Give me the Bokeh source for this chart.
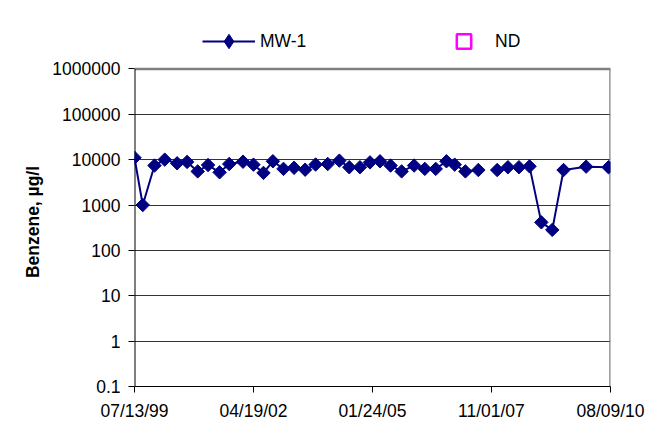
import numpy as np
import pandas as pd
from bokeh.plotting import figure
from bokeh.models import (ColumnDataSource, Range1d, FixedTicker, CustomJSTickFormatter,
                          DatetimeTickFormatter, Legend, LegendItem)
from bokeh.embed import file_html
from bokeh.resources import INLINE

# ---- data ----
dates = ["1999-07-13", "1999-09-21", "1999-12-30", "2000-03-26", "2000-07-09", "2000-10-02",
         "2000-12-31", "2001-03-29", "2001-07-05", "2001-09-25", "2002-01-20", "2002-04-19",
         "2002-07-13", "2002-10-01", "2002-12-30", "2003-03-30", "2003-07-02", "2003-09-29",
         "2004-01-10", "2004-04-18", "2004-07-11", "2004-10-10", "2005-01-03", "2005-03-29",
         "2005-06-27", "2005-09-29", "2006-01-13", "2006-04-14", "2006-07-16", "2006-10-15",
         "2006-12-24", "2007-03-25", "2007-07-13", "2007-10-01", "2007-12-20", "2008-03-20",
         "2008-06-22", "2008-09-20", "2008-12-29", "2009-04-01", "2009-07-06", "2010-01-14",
         "2010-07-23"]
mw1 = [11000, 1000, 7400, 10000, 8300, 8900, 5500, 7600, 5250, 8000, 9000, 7750,
       5100, 9200, 6250, 6600, 6000, 7800, 8000, 9500, 6800, 6800, 8700, 9200,
       7400, 5500, 7400, 6250, 6250, 9200, 7750, 5500, 5900, None, 5900, 6800,
       6800, 7100, 415, 283, 5900, 7000, 6800]
nd_dates = []          # no non-detect results
nd_values = []
x_tick_dates = ["1999-07-13", "2002-04-19", "2005-01-24", "2007-11-01", "2010-08-09"]
y_ticks = [0.1, 1, 10, 100, 1000, 10000, 100000, 1000000]
y_label = "Benzene, µg/l"

x = pd.to_datetime(dates)
y = np.array([np.nan if v is None else v for v in mw1], dtype=float)
src = ColumnDataSource(dict(x=x, y=y))

xt = pd.to_datetime(x_tick_dates)
xt_ms = [t.value / 1e6 for t in xt]
x0, x1 = xt[0], xt[-1]
y0, y1 = y_ticks[0], y_ticks[-1]

FONT = "Liberation Sans"
NAVY = "#000080"

# frame extends one decade above the top tick so the legend fits inside it
p = figure(width=645, height=432, output_backend="svg", toolbar_location=None,
           y_axis_type="log", x_axis_type="datetime",
           x_range=Range1d(x0, x1), y_range=Range1d(y0, y1 * 10),
           min_border_left=134, min_border_right=35, min_border_top=23, min_border_bottom=46)
p.styles = {"outline": "1px solid black", "outline-offset": "-3px"}

p.xgrid.grid_line_color = None
p.ygrid.grid_line_color = "#333333"
p.ygrid.grid_line_width = 1
p.outline_line_color = None
p.background_fill_color = "white"
p.border_fill_color = "white"

# plot-area edges (top/right grey, left black) bounded by the axis ranges
p.segment(x0=[x0, x1], y0=[y1, y0], x1=[x1, x1], y1=[y1, y1],
          line_color="#808080", line_width=2.5)
p.segment(x0=[x0], y0=[y0], x1=[x0], y1=[y1], line_color="black", line_width=2)

line_r = p.line("x", "y", source=src, line_color=NAVY, line_width=2)
pts_r = p.scatter("x", "y", source=src, marker="square", angle=np.pi / 4, size=9.5,
                  fill_color=NAVY, line_color=NAVY)

# legend-only glyphs (no visible data)
leg_src = ColumnDataSource(dict(x=[x0], y=[np.nan]))
mw_leg = p.scatter("x", "y", source=leg_src, marker="diamond", size=17,
                   fill_color=NAVY, line_color=NAVY)
nd_src = ColumnDataSource(dict(x=pd.to_datetime(nd_dates + [x_tick_dates[0]]),
                               y=nd_values + [np.nan]))
nd_r = p.scatter("x", "y", source=nd_src, marker="square", size=11, fill_color=None,
                 line_color="#FF00FF", line_width=2.5)

# axes
p.xaxis.ticker = FixedTicker(ticks=xt_ms)
p.xaxis.formatter = DatetimeTickFormatter(days="%m/%d/%y", months="%m/%d/%y", years="%m/%d/%y",
                                          hours="%m/%d/%y", minutes="%m/%d/%y")
p.yaxis.ticker = FixedTicker(ticks=y_ticks)
p.yaxis.formatter = CustomJSTickFormatter(code="return tick >= 1 ? tick.toFixed(0) : String(Math.round(tick*10)/10);")
for ax in (p.xaxis, p.yaxis):
    ax.axis_line_color = "black"
    ax.axis_line_width = 1
    ax.major_tick_line_color = "black"
    ax.major_tick_out = 6
    ax.major_tick_in = 0
    ax.minor_tick_line_color = None
    ax.major_label_text_font = FONT
    ax.major_label_text_font_size = "17.5px"
    ax.major_label_text_color = "black"
p.yaxis.axis_line_color = None
p.xaxis.major_label_standoff = 8
p.yaxis.major_label_standoff = 8
p.yaxis.axis_label = y_label + "\u00a0" * 7
p.yaxis.axis_label_text_font = FONT
p.yaxis.axis_label_text_font_style = "bold"
p.yaxis.axis_label_text_font_size = "17.5px"
p.yaxis.axis_label_text_color = "black"
p.yaxis.axis_label_standoff = 6

legend = Legend(items=[LegendItem(label="MW-1", renderers=[line_r, mw_leg]),
                       LegendItem(label="ND", renderers=[nd_r])],
                orientation="horizontal", location=(68, 327))
legend.border_line_color = None
legend.background_fill_alpha = 0
legend.padding = 0
legend.margin = 0
legend.spacing = 130
legend.glyph_width = 53
legend.glyph_height = 36
legend.label_height = 36
legend.label_width = 47
legend.label_standoff = 5
legend.label_text_font = FONT
legend.label_text_font_size = "17.5px"
legend.label_text_color = "black"
p.add_layout(legend, "center")

open("out.html", "w").write(file_html(p, INLINE))
